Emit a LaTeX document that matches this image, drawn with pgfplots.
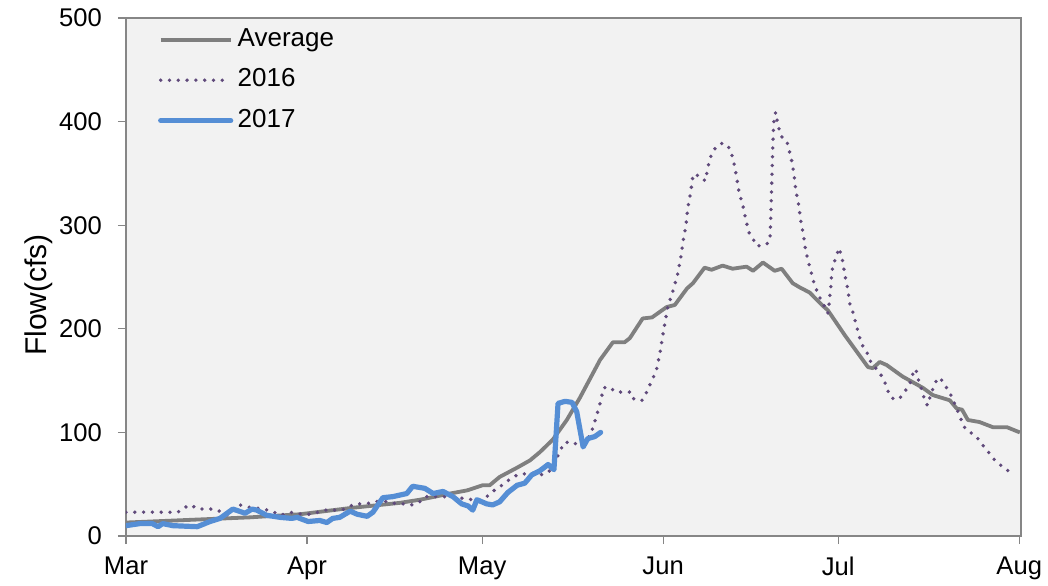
\documentclass[border=0pt]{standalone}
\usepackage{fontspec}
\setmainfont{Liberation Sans}
\usepackage{pgfplots}
\usepackage{pgfplotstable}
\pgfplotsset{compat=1.18}
\definecolor{avgc}{HTML}{7F7F7F}
\definecolor{c16}{HTML}{604A7B}
\definecolor{c17}{HTML}{558ED5}
\definecolor{bg}{HTML}{F2F2F2}
\definecolor{framec}{HTML}{868686}

\pgfplotstableread{
d v
0 13
12.7 16
21.2 18
29.8 21
38.4 27
46.9 32
50.3 35
52.1 37
55.5 41
58.4 44
61.1 49
62.3 49
64.0 57
67.0 66
69.2 73
70.9 81
73.1 93
75.5 112
77.7 133
79.5 152
81.2 170
83.4 187
85.4 187
86.3 191
88.5 210
90.1 211
92.6 221
94.0 223
96.1 239
97.1 244
99.1 259
100.3 257
102.2 261
103.9 258
106.3 260
107.4 256
109.1 264
111.1 256
112.3 258
114.2 244
115.4 240
117.1 235
119.2 223
120.2 218
123.1 194
124.0 187
127.1 163
127.9 162
129.1 168
130.3 165
133.0 154
136.5 143
138.2 136
141.1 131
142.3 123
143.2 122
144.2 112
146.2 110
148.5 105
150.9 105
153.1 100
}\avgdata

\pgfplotstableread{
d v
0 23
8.9 23
9.8 27
11.1 30
12.3 26
15.2 26
16.4 23
17.5 20
19.5 30
20.9 28
23.5 26
25.0 24
26.4 20
28.6 23
30.1 21
31.5 21
32.9 23
34.1 25
37.0 25
39.2 31
40.6 31
42.1 32
43.5 34
44.9 33
46.4 31
47.8 31
49.1 30
50.3 33
51.4 38
55.1 38
56.3 38
58.0 36
59.4 35
60.6 35
61.8 38
62.8 43
63.9 47
65.1 52
66.3 57
67.5 60
68.8 60
70.2 61
71.4 59
72.6 63
73.8 75
75.0 90
76.4 91
77.7 87
79.5 97
80.0 105
80.5 114
81.2 128
81.8 143
82.7 144
83.9 139
86.5 139
87.0 132
88.4 131
89.2 139
90.2 152
90.8 159
91.4 175
92.1 199
92.8 221
93.7 237
94.5 253
95.0 268
95.4 284
95.9 299
96.2 316
96.7 331
97.1 347
97.6 350
98.3 345
99.3 343
99.5 351
99.8 359
100.2 367
100.7 373
101.9 379
102.9 378
103.6 372
104.3 356
105.0 332
105.7 318
106.3 302
106.7 293
107.4 287
108.0 280
109.6 281
110.3 285
110.4 300
110.6 340
110.8 380
111.0 404
111.3 409
111.5 402
111.8 394
112.2 386
113.2 381
113.5 374
113.9 366
114.4 350
114.7 335
115.2 320
115.6 304
116.1 288
116.4 276
117.1 260
117.8 245
118.5 234
119.2 226
119.9 219
120.2 215
120.4 223
120.7 239
120.9 255
121.2 263
121.7 270
122.1 278
122.6 270
122.8 263
123.3 247
123.6 239
124.0 224
124.5 216
125.2 201
126.0 185
126.9 178
127.2 171
128.3 163
129.5 154
130.0 148
130.5 140
131.2 133
132.4 132
133.2 138
134.1 145
134.6 152
134.9 160
135.3 161
135.6 153
136.0 146
136.5 138
136.8 130
137.3 126
137.7 134
138.2 142
138.7 149
139.4 153
140.1 147
140.9 140
141.6 133
142.1 125
142.6 119
143.2 110
143.8 103
144.9 99
145.9 94
146.7 88
147.6 82
148.5 75
149.5 70
150.5 65
151.4 62
}\dataA

\pgfplotstableread{
d v
0 10
2.4 12
4.5 12
5.5 9
6.3 12
8.0 10
12.2 9
14.4 14
16.1 17
18.3 26
20.4 22
21.6 26
22.4 25
24.1 20
26.4 18
28.4 17
29.3 18
31.2 14
33.2 15
34.4 13
35.4 17
36.6 18
38.4 24
39.6 21
41.3 19
42.3 23
44.0 37
45.7 38
48.1 41
49.1 48
51.2 46
52.6 41
54.3 43
56.0 38
57.5 31
58.6 29
59.4 25
60.1 35
61.8 31
62.8 30
64.0 33
65.4 42
67.0 49
68.3 51
69.5 59
70.9 63
72.3 69
73.3 64
74.0 128
75.2 130
76.4 129
77.2 120
78.3 86
79.1 94
80.3 96
81.3 100
}\dataB

\begin{document}
\begin{tikzpicture}
\useasboundingbox (-63pt,-24.5pt) rectangle (461pt,268pt);
\begin{axis}[
  at={(0,0)}, anchor=south west,
  scale only axis, width=447.5pt, height=259pt,
  xmin=0, xmax=153.3, ymin=0, ymax=500,
  xtick={0,31,61,92,122,153},
  xticklabels={Mar,Apr,May,Jun,Jul,Aug},
  ytick={0,100,200,300,400,500},
  xtick pos=bottom, ytick pos=left,
  tick align=outside,
  major tick length=4pt,
  tick style={framec, line width=0.6pt},
  axis line style={framec, line width=1.1pt},
  axis background/.style={fill=bg},
  tick label style={font=\fontsize{12.8}{14}\selectfont},
  xticklabel style={yshift=-3pt},
  yticklabel style={xshift=-4.5pt},
  /pgf/number format/assume math mode=true,
  ylabel={Flow(cfs)},
  ylabel style={font=\fontsize{15}{17}\selectfont, at={(axis description cs:-0.098,0.465)}, anchor=center},
  legend style={at={(rel axis cs:0.0287,0.99)}, anchor=north west, draw=none, fill=none,
    font=\fontsize{13}{15}\selectfont, row sep=8pt,
    nodes={inner xsep=2.2pt, inner ysep=0pt, text height=9.4pt, text depth=2.8pt}},
  legend cell align=left,
  legend image code/.code={\draw[#1] (0pt,0pt) -- (35pt,0pt);},
]
\addplot[avgc, line width=1.9pt, line join=round] table[x=d,y=v] {\avgdata};
\addlegendentry{Average}
\addplot[c16, line width=1.9pt, line cap=round, dash pattern=on 0pt off 4.4pt] table[x=d,y=v] {\dataA};
\addlegendentry{2016}
\addplot[c17, line width=2.6pt, line join=round, line cap=round] table[x=d,y=v] {\dataB};
\addlegendentry{2017}
\end{axis}
\end{tikzpicture}
\end{document}
